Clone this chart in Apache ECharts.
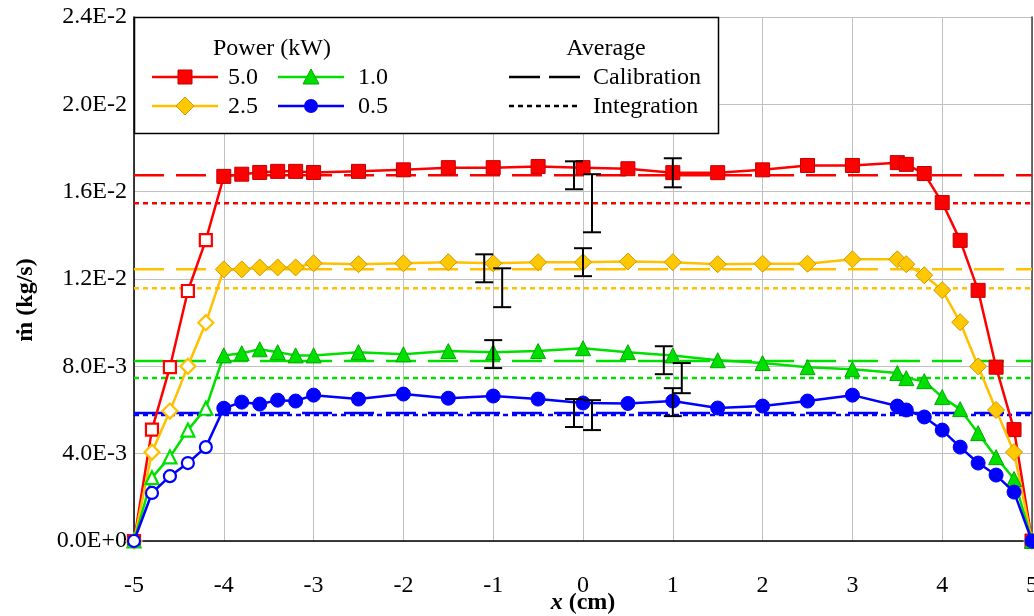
<!DOCTYPE html>
<html>
<head>
<meta charset="utf-8">
<script src="https://cdn.jsdelivr.net/npm/echarts@6/dist/echarts.min.js"></script>
<style>
  html, body { margin: 0; padding: 0; background: #fff; }
  #chart { width: 1034px; height: 616px; }
</style>
</head>
<body>
<div id="chart"></div>
<script>
// Radial positions (cm) shared by every power level
const xPositions = [-5, -4.8, -4.6, -4.4, -4.2, -4, -3.8, -3.6, -3.4, -3.2, -3, -2.5, -2, -1.5, -1, -0.5,
  0, 0.5, 1, 1.5, 2, 2.5, 3, 3.5, 3.6, 3.8, 4, 4.2, 4.4, 4.6, 4.8, 5];

// Mass flow rate (kg/s) for each power level
const power50 = [0, 5.1e-3, 7.96e-3, 11.45e-3, 13.78e-3, 16.7e-3, 16.8e-3, 16.88e-3, 16.93e-3, 16.93e-3, 16.88e-3,
  16.93e-3, 17.0e-3, 17.1e-3, 17.1e-3, 17.15e-3, 17.1e-3, 17.05e-3, 16.87e-3, 16.87e-3, 17.0e-3, 17.2e-3, 17.2e-3,
  17.33e-3, 17.25e-3, 16.83e-3, 15.5e-3, 13.77e-3, 11.48e-3, 7.96e-3, 5.1e-3, 0];
const power25 = [0, 4.07e-3, 5.95e-3, 8.0e-3, 10.0e-3, 12.44e-3, 12.44e-3, 12.53e-3, 12.53e-3, 12.53e-3, 12.72e-3,
  12.68e-3, 12.72e-3, 12.77e-3, 12.72e-3, 12.77e-3, 12.77e-3, 12.8e-3, 12.77e-3, 12.68e-3, 12.7e-3, 12.7e-3, 12.9e-3,
  12.9e-3, 12.68e-3, 12.17e-3, 11.49e-3, 10.02e-3, 8.0e-3, 6.0e-3, 4.07e-3, 0];
const power10 = [0, 2.9e-3, 3.85e-3, 5.08e-3, 6.08e-3, 8.5e-3, 8.6e-3, 8.78e-3, 8.65e-3, 8.5e-3, 8.5e-3,
  8.65e-3, 8.55e-3, 8.7e-3, 8.65e-3, 8.7e-3, 8.83e-3, 8.65e-3, 8.5e-3, 8.28e-3, 8.15e-3, 7.96e-3, 7.87e-3,
  7.69e-3, 7.46e-3, 7.32e-3, 6.59e-3, 6.04e-3, 4.94e-3, 3.84e-3, 2.84e-3, 0];
const power05 = [0, 2.2e-3, 2.97e-3, 3.57e-3, 4.3e-3, 6.08e-3, 6.36e-3, 6.27e-3, 6.45e-3, 6.41e-3, 6.68e-3,
  6.5e-3, 6.73e-3, 6.54e-3, 6.64e-3, 6.5e-3, 6.32e-3, 6.3e-3, 6.41e-3, 6.09e-3, 6.18e-3, 6.41e-3, 6.68e-3,
  6.18e-3, 6.0e-3, 5.68e-3, 5.08e-3, 4.3e-3, 3.57e-3, 3.02e-3, 2.24e-3, 0];

// Positions drawn with open markers
const hollowX = [-5, -4.8, -4.6, -4.4, -4.2];

// Average mass flow rate per power level (order: 5.0, 2.5, 1.0, 0.5 kW)
const powerNames = ['5.0', '2.5', '1.0', '0.5'];
const calibrationAvg = [16.75e-3, 12.45e-3, 8.24e-3, 5.86e-3];
const integrationAvg = [15.47e-3, 11.58e-3, 7.46e-3, 5.77e-3];

// Uncertainty bars: position, lower and upper bound
const errX    = [-0.1, 0.1, 1.0, -1.1, -0.9, 0, -1, 0.9, 1.1, -0.1, 0.1, 1.0];
const errLow  = [16.11e-3, 14.14e-3, 16.2e-3, 11.85e-3, 10.71e-3, 12.13e-3, 7.92e-3, 7.64e-3, 6.77e-3, 5.22e-3, 5.08e-3, 5.72e-3];
const errHigh = [17.39e-3, 16.8e-3, 17.53e-3, 13.13e-3, 12.49e-3, 13.41e-3, 9.2e-3, 8.92e-3, 8.15e-3, 6.5e-3, 6.45e-3, 7.0e-3];

// Tick labels
const xTickLabels = ['-5', '-4', '-3', '-2', '-1', '0', '1', '2', '3', '4', '5'];
const yTickLabels = ['0.0E+0', '4.0E-3', '8.0E-3', '1.2E-2', '1.6E-2', '2.0E-2', '2.4E-2'];

const FONT = '"Liberation Serif", "Times New Roman", serif';

const styles = [
  { values: power50, line: '#FF0000', fill: '#FF0000', border: '#C00000', symbol: 'rect', size: 14, hollow: 12 },
  { values: power25, line: '#FFC000', fill: '#FFC800', border: '#C99A00', symbol: 'diamond', size: 17, hollow: 15 },
  { values: power10, line: '#00E000', fill: '#00E000', border: '#00A800', symbol: 'triangle', size: 15, hollow: 13 },
  { values: power05, line: '#0000FF', fill: '#0000FF', border: '#0000FF', symbol: 'circle', size: 14, hollow: 12 }
];

const series = [];

// Average lines go underneath the measured profiles
styles.forEach((s, i) => {
  series.push({
    name: powerNames[i] + ' calibration',
    type: 'line',
    data: [[-5, calibrationAvg[i]], [5, calibrationAvg[i]]],
    symbol: 'none',
    silent: true,
    lineStyle: { color: s.line, width: 2.5, type: [30, 12] },
    z: 1
  });
  series.push({
    name: powerNames[i] + ' integration',
    type: 'line',
    data: [[-5, integrationAvg[i]], [5, integrationAvg[i]]],
    symbol: 'none',
    silent: true,
    lineStyle: { color: s.line, width: 2.5, type: [5, 4] },
    z: 1
  });
});

styles.forEach((s, i) => {
  const data = xPositions.map((x, k) => {
    const item = { value: [x, s.values[k]] };
    if (hollowX.indexOf(x) >= 0) {
      item.symbolSize = s.hollow;
      item.itemStyle = { color: '#FFFFFF', borderColor: s.line, borderWidth: 2.2 };
    }
    return item;
  });
  series.push({
    name: powerNames[i],
    type: 'line',
    data: data,
    symbol: s.symbol,
    symbolSize: s.size,
    showAllSymbol: true,
    lineStyle: { color: s.line, width: 2.5 },
    itemStyle: { color: s.fill, borderColor: s.border, borderWidth: 1 },
    z: 3 + i
  });
});

// Uncertainty bars with end caps
series.push({
  name: 'uncertainty',
  type: 'custom',
  data: errX.map((x, k) => [x, errLow[k], errHigh[k]]),
  encode: { x: 0, y: [1, 2] },
  z: 10,
  renderItem: function (params, api) {
    const x = api.value(0);
    const lo = api.coord([x, api.value(1)]);
    const hi = api.coord([x, api.value(2)]);
    const cap = 9;
    const st = { stroke: '#000', lineWidth: 2 };
    return {
      type: 'group',
      children: [
        { type: 'line', shape: { x1: hi[0], y1: hi[1], x2: lo[0], y2: lo[1] }, style: st },
        { type: 'line', shape: { x1: hi[0] - cap, y1: hi[1], x2: hi[0] + cap, y2: hi[1] }, style: st },
        { type: 'line', shape: { x1: lo[0] - cap, y1: lo[1], x2: lo[0] + cap, y2: lo[1] }, style: st }
      ]
    };
  }
});

// Legend box drawn as graphic elements
const legendFont = '24px ' + FONT;
function legendText(text, x, y, align) {
  return { type: 'text', x: x, y: y, z: 101,
    style: { text: text, font: legendFont, fill: '#000', align: align, textAlign: align,
             verticalAlign: 'middle', textVerticalAlign: 'middle' } };
}
function legendLine(x1, x2, y, color, dash) {
  return { type: 'line', z: 101, shape: { x1: x1, y1: y, x2: x2, y2: y },
    style: { stroke: color, lineWidth: 2.5, lineDash: dash || null } };
}
const legendItems = [
  { type: 'rect', z: 100, shape: { x: 134.5, y: 17.5, width: 584, height: 116 },
    style: { fill: '#FFFFFF', stroke: '#000', lineWidth: 1.5 } },
  legendText('Power (kW)', 272, 49, 'center'),
  legendText('Average', 606, 49, 'center'),
  // 5.0 kW
  legendLine(152, 218, 77, '#FF0000'),
  { type: 'rect', z: 102, shape: { x: 178, y: 70, width: 14, height: 14 },
    style: { fill: '#FF0000', stroke: '#C00000', lineWidth: 1 } },
  legendText('5.0', 228, 78, 'left'),
  // 1.0 kW
  legendLine(278, 344, 77, '#00E000'),
  { type: 'polygon', z: 102, shape: { points: [[311, 69], [319, 84], [303, 84]] },
    style: { fill: '#00E000', stroke: '#00A800', lineWidth: 1 } },
  legendText('1.0', 358, 78, 'left'),
  // 2.5 kW
  legendLine(152, 218, 106, '#FFC000'),
  { type: 'polygon', z: 102, shape: { points: [[185, 97], [194, 106], [185, 115], [176, 106]] },
    style: { fill: '#FFC800', stroke: '#C99A00', lineWidth: 1 } },
  legendText('2.5', 228, 107, 'left'),
  // 0.5 kW
  legendLine(278, 344, 106, '#0000FF'),
  { type: 'circle', z: 102, shape: { cx: 311, cy: 106, r: 7 }, style: { fill: '#0000FF' } },
  legendText('0.5', 358, 107, 'left'),
  // Average styles
  legendLine(509, 581, 77, '#000', [31, 9]),
  legendText('Calibration', 593, 78, 'left'),
  legendLine(509, 581, 106, '#000', [5, 4]),
  legendText('Integration', 593, 107, 'left')
];

const chart = echarts.init(document.getElementById('chart'), null, { renderer: 'canvas' });
chart.setOption({
  animation: false,
  backgroundColor: '#FFFFFF',
  grid: { left: 134, right: 2, top: 17, bottom: 75, containLabel: false, outerBoundsMode: 'none' },
  xAxis: {
    type: 'value', min: -5, max: 5, interval: 1,
    name: '{i|x} (cm)',
    nameLocation: 'middle', nameGap: 50, nameMoveOverlap: false,
    nameTextStyle: {
      fontFamily: FONT, fontSize: 24, fontWeight: 'bold', color: '#000',
      rich: { i: { fontFamily: FONT, fontSize: 24, fontWeight: 'bold', fontStyle: 'italic', color: '#000' } }
    },
    axisLine: { onZero: false, lineStyle: { color: '#000', width: 1.5 } },
    axisTick: { show: false },
    splitLine: { show: true, lineStyle: { color: '#C0C0C0', width: 1 } },
    axisLabel: { fontFamily: FONT, fontSize: 24, color: '#000', margin: 33,
      formatter: (v, i) => xTickLabels[i] }
  },
  yAxis: [{
    type: 'value', min: 0, max: 0.024, interval: 0.004,
    name: 'ṁ (kg/s)',
    nameLocation: 'middle', nameGap: 96, nameMoveOverlap: false,
    nameTextStyle: { fontFamily: FONT, fontSize: 24, fontWeight: 'bold', color: '#000', padding: [0, 42, 0, 0] },
    axisLine: { show: true, onZero: false, lineStyle: { color: '#000', width: 1.5 } },
    axisTick: { show: false },
    splitLine: { show: true, lineStyle: { color: '#C0C0C0', width: 1 } },
    axisLabel: { fontFamily: FONT, fontSize: 24, color: '#000', margin: 7, padding: [7, 0, 0, 0],
      formatter: (v, i) => yTickLabels[i] }
  }, {
    type: 'value', min: 0, max: 0.024, interval: 0.004, position: 'right',
    axisLine: { show: true, onZero: false, lineStyle: { color: '#404040', width: 1.5 } },
    axisTick: { show: false }, axisLabel: { show: false }, splitLine: { show: false }
  }],
  graphic: { elements: legendItems },
  series: series
});
</script>
</body>
</html>
